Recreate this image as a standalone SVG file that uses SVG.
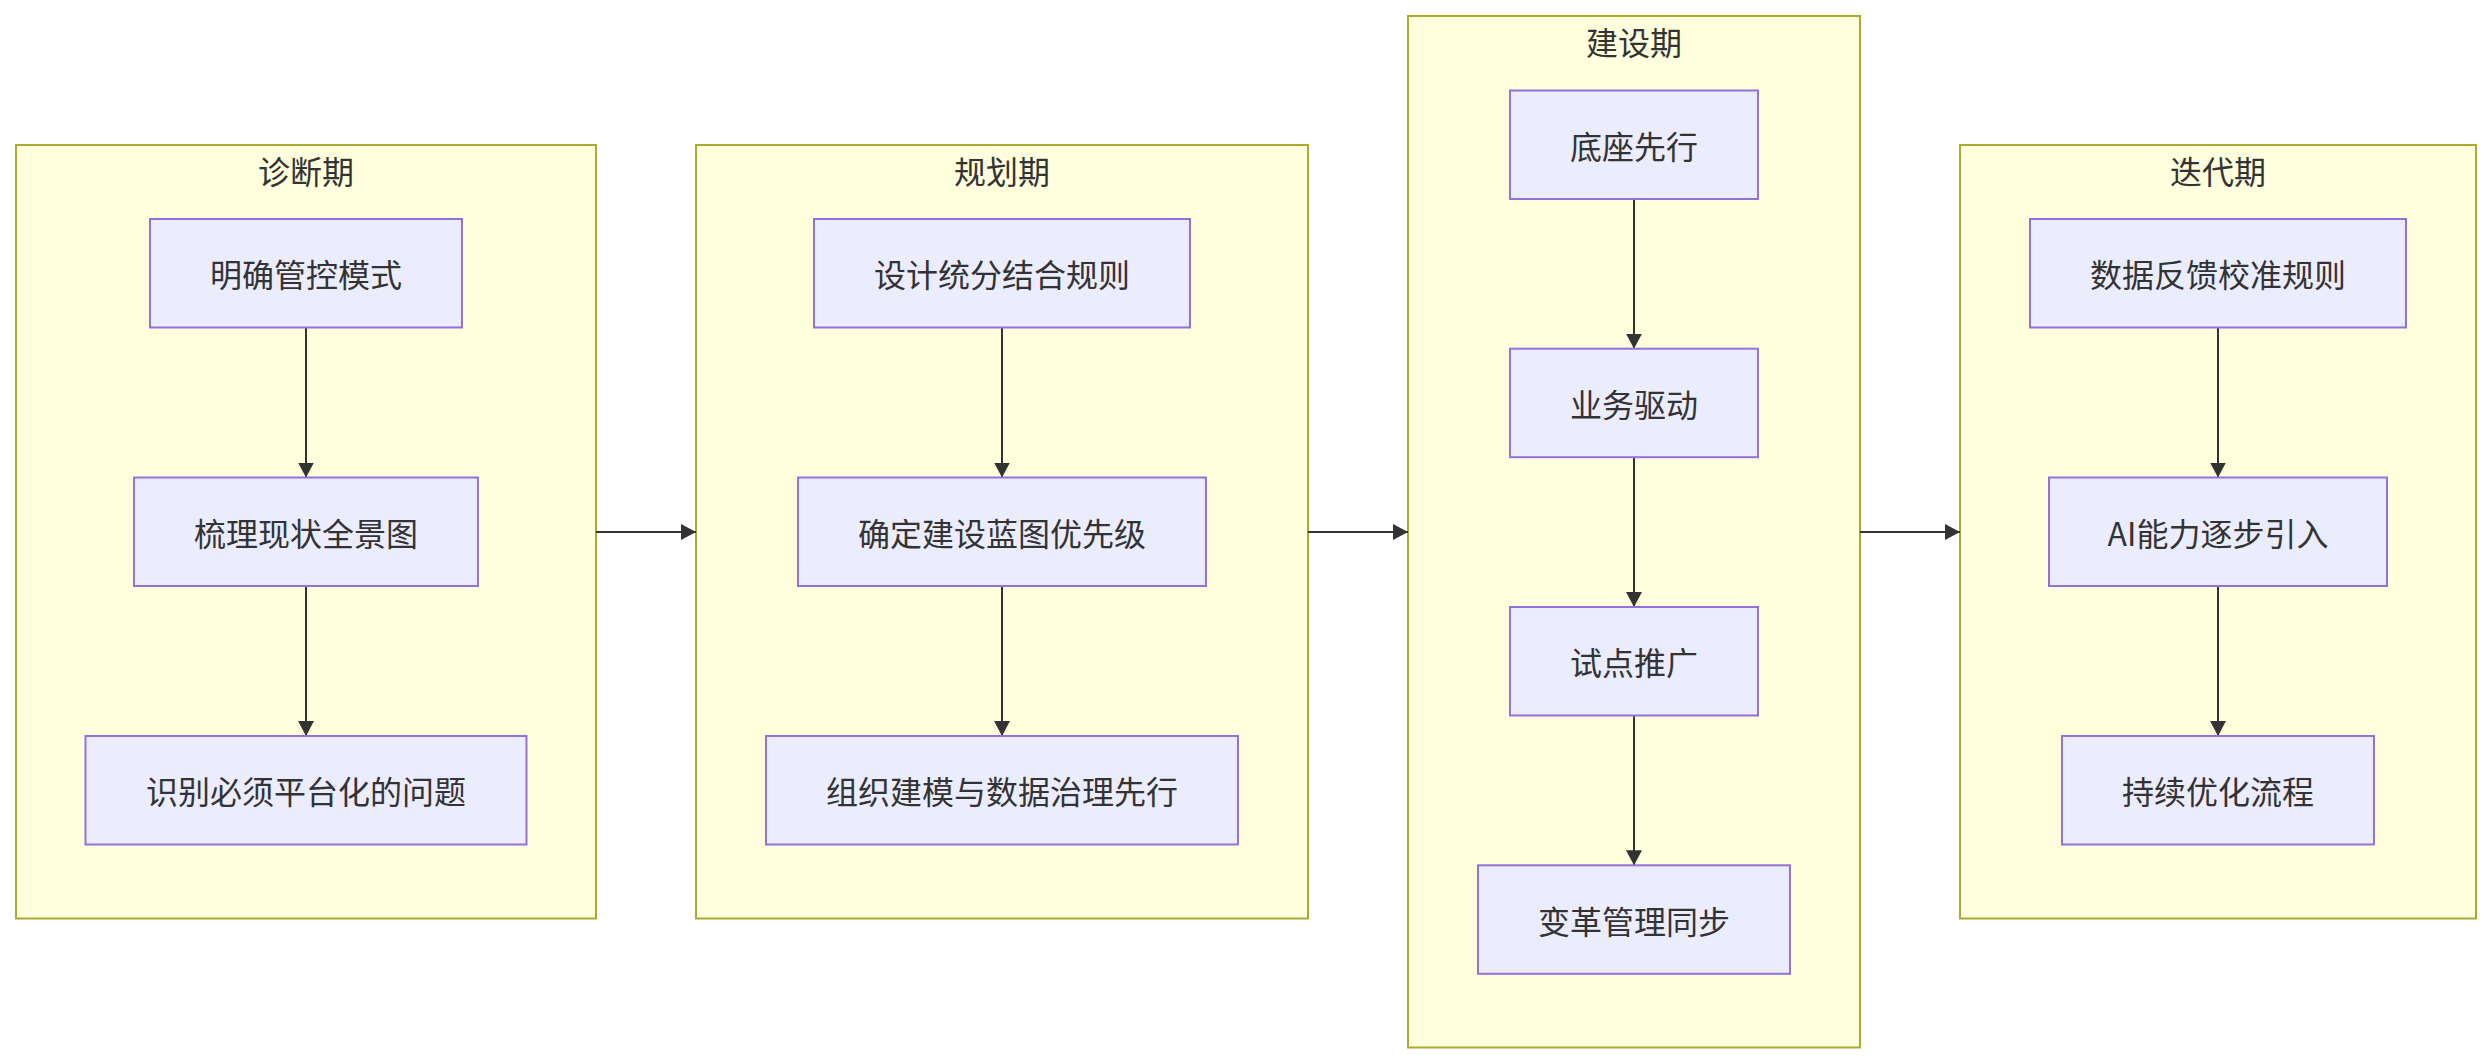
<svg xmlns="http://www.w3.org/2000/svg" width="2492" height="1064" viewBox="0 0 2492 1064">
<style>
.cluster{fill:#ffffde;stroke:#aaaa33;stroke-width:2}
.node rect{fill:#ECECFF;stroke:#9370DB;stroke-width:2}
text{font-family:"Noto Sans CJK SC","Noto Sans",sans-serif;font-size:32px;fill:#333333;text-anchor:middle;dominant-baseline:central}
.edge{fill:none;stroke:#333333;stroke-width:2}
</style>
<defs>
<marker id="arrow" viewBox="0 0 15 16" refX="15" refY="8" markerWidth="15" markerHeight="16" markerUnits="userSpaceOnUse" orient="auto">
<path d="M0,0 L15,8 L0,16 z" fill="#333333"/>
</marker>
</defs>
<g id="cluster-diagnose">
<rect class="cluster" x="16" y="145" width="580" height="773.5"/>
<text x="306" y="169.5">诊断期</text>
</g>
<g id="cluster-plan">
<rect class="cluster" x="696" y="145" width="612" height="773.5"/>
<text x="1002" y="169.5">规划期</text>
</g>
<g id="cluster-build">
<rect class="cluster" x="1408" y="16" width="452" height="1031.5"/>
<text x="1634" y="40.5">建设期</text>
</g>
<g id="cluster-iterate">
<rect class="cluster" x="1960" y="145" width="516" height="773.5"/>
<text x="2218" y="169.5">迭代期</text>
</g>
<g id="edges">
<path class="edge" d="M306,328 L306,477.5" marker-end="url(#arrow)"/>
<path class="edge" d="M306,586 L306,736" marker-end="url(#arrow)"/>
<path class="edge" d="M1002,328 L1002,477.5" marker-end="url(#arrow)"/>
<path class="edge" d="M1002,586 L1002,736" marker-end="url(#arrow)"/>
<path class="edge" d="M1634,199 L1634,348.7" marker-end="url(#arrow)"/>
<path class="edge" d="M1634,457.2 L1634,607" marker-end="url(#arrow)"/>
<path class="edge" d="M1634,715.5 L1634,865.3" marker-end="url(#arrow)"/>
<path class="edge" d="M2218,328 L2218,477.5" marker-end="url(#arrow)"/>
<path class="edge" d="M2218,586 L2218,736" marker-end="url(#arrow)"/>
<path class="edge" d="M596,532 L696,532" marker-end="url(#arrow)"/>
<path class="edge" d="M1308,532 L1408,532" marker-end="url(#arrow)"/>
<path class="edge" d="M1860,532 L1960,532" marker-end="url(#arrow)"/>
</g>
<g id="n1" class="node"><rect x="150" y="219" width="312" height="108.5"/><text x="306" y="273.3">明确管控模式</text></g>
<g id="n2" class="node"><rect x="134" y="477.5" width="344" height="108.5"/><text x="306" y="531.8">梳理现状全景图</text></g>
<g id="n3" class="node"><rect x="85.5" y="736" width="441" height="108.5"/><text x="306" y="790.3">识别必须平台化的问题</text></g>
<g id="n4" class="node"><rect x="814" y="219" width="376" height="108.5"/><text x="1002" y="273.3">设计统分结合规则</text></g>
<g id="n5" class="node"><rect x="798" y="477.5" width="408" height="108.5"/><text x="1002" y="531.8">确定建设蓝图优先级</text></g>
<g id="n6" class="node"><rect x="766" y="736" width="472" height="108.5"/><text x="1002" y="790.3">组织建模与数据治理先行</text></g>
<g id="n7" class="node"><rect x="1510" y="90.5" width="248" height="108.5"/><text x="1634" y="144.8">底座先行</text></g>
<g id="n8" class="node"><rect x="1510" y="348.7" width="248" height="108.5"/><text x="1634" y="403">业务驱动</text></g>
<g id="n9" class="node"><rect x="1510" y="607" width="248" height="108.5"/><text x="1634" y="661.3">试点推广</text></g>
<g id="n10" class="node"><rect x="1478" y="865.3" width="312" height="108.5"/><text x="1634" y="919.5">变革管理同步</text></g>
<g id="n11" class="node"><rect x="2030" y="219" width="376" height="108.5"/><text x="2218" y="273.3">数据反馈校准规则</text></g>
<g id="n12" class="node"><rect x="2049" y="477.5" width="338" height="108.5"/><text x="2218" y="531.8">AI能力逐步引入</text></g>
<g id="n13" class="node"><rect x="2062" y="736" width="312" height="108.5"/><text x="2218" y="790.3">持续优化流程</text></g>
</svg>
